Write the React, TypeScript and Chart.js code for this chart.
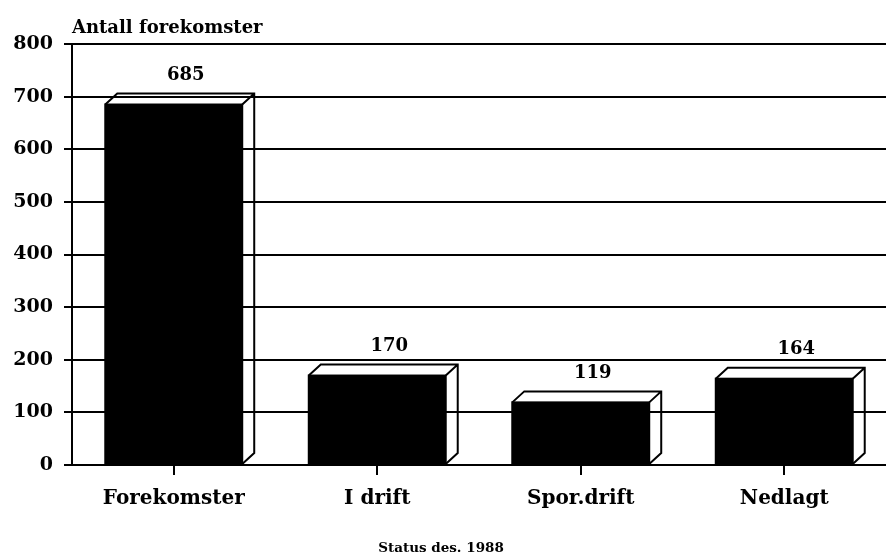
import React, { useEffect, useRef } from "react";
import { Chart, registerables } from "chart.js";

Chart.register(...registerables);

const categories = ["Forekomster", "I drift", "Spor.drift", "Nedlagt"];
const counts = [685, 170, 119, 164];
const yMin = 0;
const yMax = 800;
const yStep = 100;
const yTitle = "Antall forekomster";
const xTitle = "Status des. 1988";

const FONT = "'DejaVu Serif', serif";
const DX = 12;
const DY = 11;

const box3d = {
  id: "box3d",
  afterDatasetsDraw(chart: any) {
    const ctx = chart.ctx;
    const meta = chart.getDatasetMeta(0);
    ctx.save();
    ctx.strokeStyle = "#000";
    ctx.lineWidth = 2;
    ctx.lineJoin = "miter";
    ctx.fillStyle = "#000";
    ctx.font = `bold 18px ${FONT}`;
    ctx.textAlign = "center";
    ctx.textBaseline = "middle";
    meta.data.forEach((bar: any, i: number) => {
      const { x, y, width, base } = bar.getProps(["x", "y", "width", "base"], true);
      const l = x - width / 2;
      const r = x + width / 2;
      ctx.beginPath();
      ctx.moveTo(l, y);
      ctx.lineTo(l + DX, y - DY);
      ctx.lineTo(r + DX, y - DY);
      ctx.lineTo(r + DX, base - DY);
      ctx.lineTo(r, base);
      ctx.moveTo(r, y);
      ctx.lineTo(r + DX, y - DY);
      ctx.stroke();
      ctx.strokeRect(l, y, width, base - y);
      ctx.fillText(String(counts[i]), x + DX, y - DY - 18);
    });
    ctx.restore();
  },
  afterDraw(chart: any) {
    const ctx = chart.ctx;
    ctx.save();
    ctx.fillStyle = "#000";
    ctx.textBaseline = "middle";
    ctx.font = `bold 18px ${FONT}`;
    ctx.textAlign = "left";
    ctx.fillText(yTitle, chart.chartArea.left, 28);
    ctx.font = `bold 13.5px ${FONT}`;
    ctx.textAlign = "center";
    ctx.fillText(xTitle, 441, 548);
    ctx.restore();
  },
};

export default function App() {
  const ref = useRef<HTMLCanvasElement | null>(null);
  useEffect(() => {
    if (!ref.current) return;
    const chart = new Chart(ref.current, {
      type: "bar",
      data: {
        labels: categories,
        datasets: [
          {
            data: counts,
            backgroundColor: "#000",
            borderWidth: 0,
            categoryPercentage: 1,
            barPercentage: 0.673,
          },
        ],
      },
      plugins: [box3d],
      options: {
        responsive: false,
        animation: false,
        devicePixelRatio: 1,
        layout: { padding: { top: 44, left: 0, right: 0, bottom: 0 } },
        plugins: {
          legend: { display: false },
          tooltip: { enabled: false },
          title: { display: false },
        },
        scales: {
          x: {
            offset: true,
            grid: {
              offset: false,
              drawOnChartArea: false,
              drawTicks: true,
              tickLength: 10,
              color: "#000",
              lineWidth: 2,
            },
            border: { display: true, color: "#000", width: 2 },
            ticks: {
              color: "#000",
              font: { family: FONT, weight: "bold", size: 20 },
              padding: 12,
              maxRotation: 0,
              autoSkip: false,
            },
            afterFit(scale: any) {
              scale.height = 91;
            },
          },
          y: {
            min: yMin,
            max: yMax,
            ticks: {
              stepSize: yStep,
              color: "#000",
              font: { family: FONT, weight: "bold", size: 19 },
              padding: 11,
            },
            grid: {
              color: "#000",
              lineWidth: 2,
              tickLength: 8,
              drawTicks: true,
            },
            border: { display: true, color: "#000", width: 2 },
            afterFit(scale: any) {
              scale.width = 72;
            },
          },
        },
      },
    });
    return () => chart.destroy();
  }, []);
  return (
    <div style={{ position: "fixed", left: 0, top: 0, width: 886, height: 556, background: "#fff" }}>
      <canvas ref={ref} width={886} height={556} />
    </div>
  );
}
